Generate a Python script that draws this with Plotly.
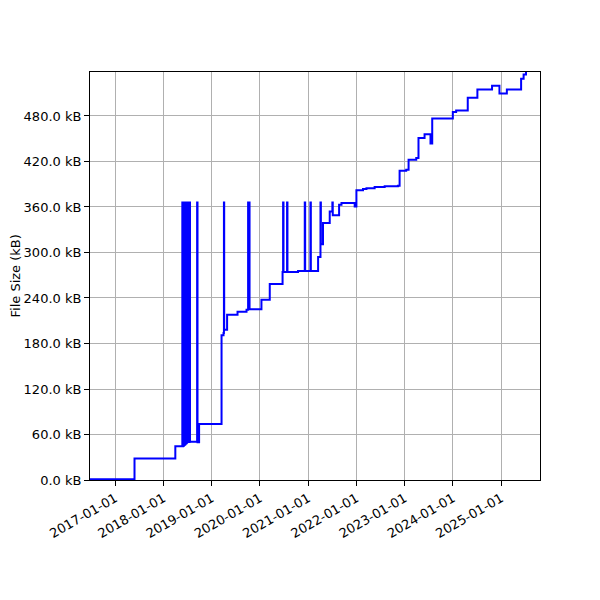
import plotly.graph_objects as go

# commit dates and file size (kB)
dates = [
    '2016-06-24', '2017-05-27', '2018-04-01',
    '2018-05-24', '2018-05-27', '2018-05-30', '2018-06-02', '2018-06-05', '2018-06-08',
    '2018-06-11', '2018-06-14', '2018-06-17', '2018-06-20', '2018-06-23', '2018-06-26',
    '2018-06-29', '2018-07-02', '2018-07-05', '2018-07-08', '2018-07-11', '2018-07-14',
    '2018-07-18', '2018-07-21', '2018-09-13', '2018-09-16', '2018-09-28',
    '2019-03-17', '2019-04-01', '2019-04-04', '2019-04-06', '2019-04-28', '2019-07-16',
    '2019-09-22', '2019-10-04', '2019-10-07', '2019-10-12', '2019-10-15',
    '2020-01-13', '2020-03-16', '2020-06-21', '2020-06-25', '2020-06-28', '2020-07-25',
    '2020-07-28', '2020-10-16', '2020-12-06', '2020-12-09', '2021-01-18', '2021-01-21',
    '2021-03-17', '2021-04-04', '2021-04-07', '2021-04-23', '2021-06-13', '2021-07-03',
    '2021-07-06', '2021-08-23', '2021-09-10', '2021-12-19', '2022-01-01', '2022-02-20',
    '2022-03-18', '2022-05-19', '2022-08-03', '2022-11-11', '2022-11-24', '2023-01-13',
    '2023-01-31', '2023-03-30', '2023-04-16', '2023-06-01', '2023-07-16', '2023-07-29',
    '2024-01-01', '2024-01-26', '2024-04-23', '2024-07-05', '2024-10-24', '2024-12-19',
    '2025-02-13', '2025-06-01', '2025-06-20', '2025-07-08',
]
sizes_kb = [
    1.0, 28.5, 44.5,
    366, 44.5, 366, 45, 366, 46,
    366, 47, 366, 48, 366, 49,
    366, 50, 366, 50, 366, 50,
    366, 50.4, 366, 49.8, 74,
    191, 194, 366, 198, 218, 222,
    224.4, 366, 225, 366, 225.3,
    237.6, 258.3, 274.2, 366, 274.2, 366,
    274.2, 275.5, 366, 275.5, 366, 275.5,
    294, 366, 311, 339, 354, 366,
    349, 363, 365.3, 360.8, 382, 383.7,
    384.6, 386.4, 387.5, 388.1, 407.9, 409.2,
    422.4, 424.7, 451, 455.8, 443.6, 476.6,
    485.4, 487.1, 503.9, 514.8, 520, 509.6,
    514.8, 529, 534.7, 538,
]

year_ticks = ['2017-01-01', '2018-01-01', '2019-01-01', '2020-01-01', '2021-01-01',
              '2022-01-01', '2023-01-01', '2024-01-01', '2025-01-01']
size_ticks = [0, 60, 120, 180, 240, 300, 360, 420, 480]

fig = go.Figure(go.Scatter(
    x=dates,
    y=sizes_kb,
    mode='lines',
    line=dict(color='#0000ff', width=2, shape='hv'),
))

axis_style = dict(
    showline=True, linecolor='black', linewidth=1, mirror=True,
    ticks='outside', ticklen=5, tickwidth=1, tickcolor='black',
    showgrid=True, gridcolor='#b0b0b0', gridwidth=1,
    zeroline=False,
    tickfont=dict(family='DejaVu Sans', size=13, color='black'),
)

# page body adds an 8px offset, so margins are shifted to compensate
fig.update_layout(
    width=600, height=600,
    margin=dict(l=82, r=68, t=64, b=128),
    paper_bgcolor='white', plot_bgcolor='white',
    showlegend=False,
    xaxis=dict(
        type='date',
        range=['2016-06-24', '2025-10-22'],
        tickvals=year_ticks,
        ticktext=year_ticks,
        tickangle=-30,
        **axis_style,
    ),
    yaxis=dict(
        range=[0, 538],
        tickvals=size_ticks,
        ticktext=[f'{v:.1f} kB' for v in size_ticks],
        **axis_style,
    ),
    annotations=[dict(
        text='File Size (kB)',
        xref='paper', yref='paper',
        x=(6.5 - 82) / 450, y=0.5,
        xanchor='center', yanchor='middle',
        textangle=-90,
        showarrow=False,
        font=dict(family='DejaVu Sans', size=13, color='black'),
    )],
)

fig.write_html('out.html')
